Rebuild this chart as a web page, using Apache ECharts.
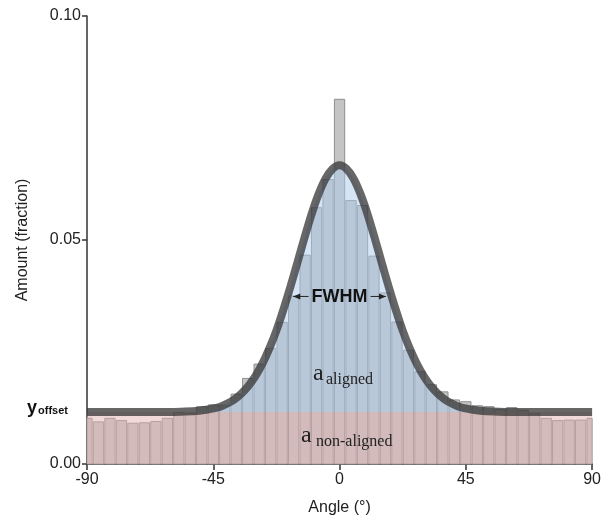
<!DOCTYPE html>
<html><head><meta charset="utf-8">
<script src="https://cdn.jsdelivr.net/npm/echarts@6/dist/echarts.min.js"></script>
<style>html,body{margin:0;padding:0;background:#fff}#c{width:604px;height:521px}</style>
</head><body><div id="c"></div>
<script>
// Histogram bin centres (deg) and fractions
const binCenters = [-90,-85.91,-81.82,-77.73,-73.64,-69.55,-65.45,-61.36,-57.27,-53.18,-49.09,-45,-40.91,-36.82,-32.73,-28.64,-24.55,-20.45,-16.36,-12.27,-8.18,-4.09,0,4.09,8.18,12.27,16.36,20.45,24.55,28.64,32.73,36.82,40.91,45,49.09,53.18,57.27,61.36,65.45,69.55,73.64,77.73,81.82,85.91,90];
const binValues = [0.0102,0.0094,0.0102,0.0097,0.0091,0.0092,0.0095,0.0102,0.0115,0.0113,0.0128,0.0132,0.0131,0.0156,0.0191,0.0223,0.0258,0.0316,0.0375,0.0466,0.0572,0.0635,0.0814,0.0588,0.0577,0.0464,0.0382,0.0317,0.0254,0.0206,0.0177,0.0161,0.0143,0.0139,0.0130,0.0128,0.0122,0.0126,0.0120,0.0113,0.0102,0.0097,0.0098,0.0098,0.0102];
// Fitted curve
const curveAngles = [-90,-70,-60,-55,-50,-47.5,-45,-42.5,-40,-37.5,-35,-32.5,-30,-27.5,-25,-22.5,-20,-17.5,-15,-12.5,-10,-7.5,-5,-2.5,0,2.5,5,7.5,10,12.5,15,17.5,20,22.5,25,27.5,30,32.5,35,37.5,40,42.5,45,47.5,50,55,60,70,90];
const curveValues = [0.0116,0.0116,0.0116,0.0117,0.0119,0.0121,0.0124,0.0128,0.0135,0.0144,0.0157,0.0174,0.0196,0.0224,0.0258,0.0298,0.0345,0.0396,0.0450,0.0505,0.0557,0.0602,0.0637,0.0659,0.0667,0.0659,0.0637,0.0602,0.0557,0.0505,0.0450,0.0396,0.0345,0.0298,0.0258,0.0224,0.0196,0.0174,0.0157,0.0144,0.0135,0.0128,0.0124,0.0121,0.0119,0.0117,0.0116,0.0116,0.0116];
const yOffset = 0.0116;
const xTicks = [-90,-45,0,45,90];
const yTicks = [0.00,0.05,0.10];
const fwhmHalf = 16.5;
const fwhmLevel = 0.0374;

const binWidth = binCenters[1] - binCenters[0];
const chart = echarts.init(document.getElementById('c'), null, {renderer:'canvas'});
const axisColor = '#333';
const font = 'Liberation Sans, Arial, sans-serif';
chart.setOption({
  animation:false,
  backgroundColor:'#fff',
  grid:{left:87,right:8,top:16,bottom:56,containLabel:false},
  xAxis:{
    type:'value', min:xTicks[0], max:xTicks[xTicks.length-1], interval:45,
    axisLine:{show:true,onZero:false,lineStyle:{color:axisColor,width:1.5}},
    axisTick:{show:true,length:6,lineStyle:{color:axisColor,width:1.5}},
    axisLabel:{fontSize:16,color:'#222',fontFamily:font,margin:8},
    splitLine:{show:false},
    name:'Angle (°)', nameLocation:'middle', nameGap:36,
    nameTextStyle:{fontSize:16,color:'#222',fontFamily:font}
  },
  yAxis:{
    type:'value', min:yTicks[0], max:yTicks[yTicks.length-1], interval:0.05,
    axisLine:{show:true,onZero:false,lineStyle:{color:axisColor,width:1.5}},
    axisTick:{show:true,length:5,lineStyle:{color:axisColor,width:1.5}},
    axisLabel:{fontSize:16,color:'#222',fontFamily:font,margin:6,formatter:v=>v.toFixed(2)},
    splitLine:{show:false},
    name:'Amount (fraction)', nameLocation:'middle', nameGap:56,
    nameTextStyle:{fontSize:16,color:'#222',fontFamily:font}
  },
  series:[{
    type:'custom', z:1,
    data:binCenters.map((c,i)=>[c,binValues[i]]),
    renderItem:(params, api) => {
      const c = api.value(0), v = api.value(1);
      const p0 = api.coord([c - binWidth/2, v]);
      const p1 = api.coord([c + binWidth/2, 0]);
      const gap = 0.6;
      const rect = {x:p0[0]+gap, y:p0[1], width:p1[0]-p0[0]-2*gap, height:p1[1]-p0[1]};
      const cs = params.coordSys;
      const clipped = echarts.graphic.clipRectByRect(rect, {x:cs.x, y:cs.y, width:cs.width, height:cs.height});
      return clipped && {type:'rect', shape:clipped, style:{fill:'#c4c4c4', stroke:'#8e8e8e', lineWidth:1}};
    }
  },{
    type:'line', data:[[xTicks[0],yOffset],[xTicks[xTicks.length-1],yOffset]],
    symbol:'none', lineStyle:{width:0}, z:2,
    areaStyle:{color:'rgba(228,178,178,0.7)',origin:'start'}
  },{
    type:'line', data:curveAngles.map((a,i)=>[a,curveValues[i]]),
    symbol:'none', smooth:0.3, z:3,
    lineStyle:{width:8,color:'rgba(55,55,55,0.76)'},
    areaStyle:{color:'rgba(174,203,238,0.72)',origin:yOffset}
  }]
});

const px = v => chart.convertToPixel({xAxisIndex:0,yAxisIndex:0}, v);
const L = px([-fwhmHalf,fwhmLevel]), R = px([fwhmHalf,fwhmLevel]), M = px([0,fwhmLevel]);
const ah = 7, aw = 3;
chart.setOption({graphic:[
  {type:'line',z:10,shape:{x1:L[0],y1:L[1],x2:M[0]-31,y2:M[1]},style:{stroke:'#222',lineWidth:1}},
  {type:'line',z:10,shape:{x1:M[0]+31,y1:M[1],x2:R[0],y2:R[1]},style:{stroke:'#222',lineWidth:1}},
  {type:'polygon',z:10,shape:{points:[[L[0],L[1]],[L[0]+ah,L[1]-aw],[L[0]+ah,L[1]+aw]]},style:{fill:'#222'}},
  {type:'polygon',z:10,shape:{points:[[R[0],R[1]],[R[0]-ah,R[1]-aw],[R[0]-ah,R[1]+aw]]},style:{fill:'#222'}},
  {type:'text',z:10,x:M[0],y:M[1]+1,style:{text:'FWHM',font:'bold 18px Liberation Sans, Arial',fill:'#111',align:'center',verticalAlign:'middle'}},
  {type:'text',z:10,x:313,y:374,style:{text:'a',font:'24px Liberation Serif, serif',fill:'#222',align:'left',verticalAlign:'middle'}},
  {type:'text',z:10,x:326,y:380,style:{text:'aligned',font:'16px Liberation Serif, serif',fill:'#222',align:'left',verticalAlign:'middle'}},
  {type:'text',z:10,x:301,y:436,style:{text:'a',font:'24px Liberation Serif, serif',fill:'#222',align:'left',verticalAlign:'middle'}},
  {type:'text',z:10,x:316,y:442,style:{text:'non-aligned',font:'16px Liberation Serif, serif',fill:'#222',align:'left',verticalAlign:'middle'}},
  {type:'text',z:10,x:27,y:408,style:{text:'y',font:'bold 18px Liberation Sans, Arial',fill:'#111',align:'left',verticalAlign:'middle'}},
  {type:'text',z:10,x:38,y:411,style:{text:'offset',font:'bold 11px Liberation Sans, Arial',fill:'#111',align:'left',verticalAlign:'middle'}}
]});
</script></body></html>
